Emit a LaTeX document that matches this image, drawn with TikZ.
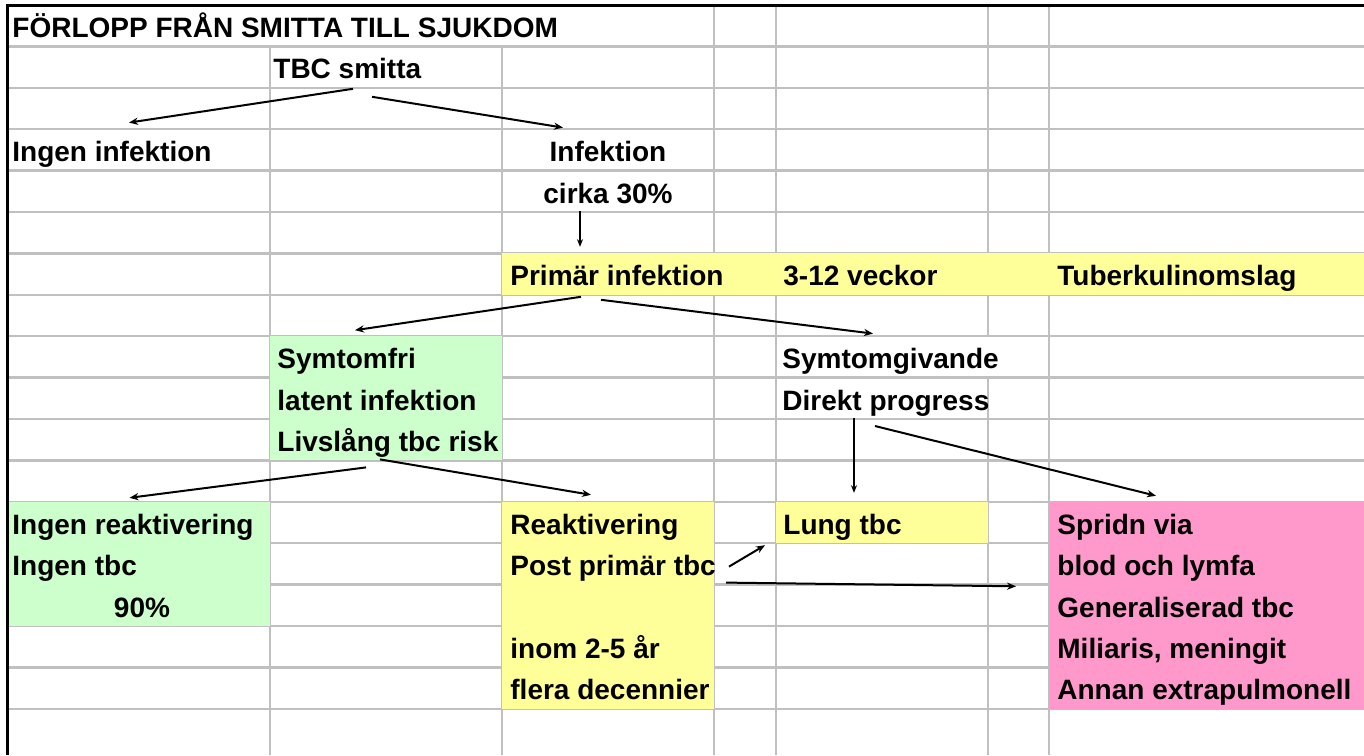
\documentclass[tikz,border=0pt]{standalone}
\usepackage{fontspec}
\setmainfont{Liberation Sans}
\usepackage{tikz}
\usetikzlibrary{arrows.meta,calc}
\usepackage{xcolor}
\definecolor{cellyellow}{HTML}{FFFF99}
\definecolor{cellgreen}{HTML}{CCFFCC}
\definecolor{cellpink}{HTML}{FF99CC}
\definecolor{gridgray}{HTML}{C0C0C0}

\begin{document}
\begin{tikzpicture}[
    x=0.5pt, y=-0.5pt,
    gridline/.style={draw=gridgray, line width=1.2pt},
    border/.style={draw=black, line width=1.5pt},
    cell/.style={rectangle, draw=none, inner sep=0pt, outer sep=0pt, anchor=north west},
    txt/.style={anchor=base west, inner sep=0pt, font=\bfseries\fontsize{14}{16}\selectfont},
    ctxt/.style={txt, anchor=base},
    arrow/.style={-{Stealth[length=4.5pt, width=3.6pt]}, line width=1pt},
    thinarrow/.style={-{Stealth[length=3.8pt, width=3pt]}, line width=0.6pt}
]
\useasboundingbox (0,0) rectangle (1364,755);
\fill[white] (0,0) rectangle (1364,755);

\foreach \k in {1,...,17}
  \draw[gridline] (8,{5+41.4*\k}) -- (1364,{5+41.4*\k});
\foreach \x in {714,776,1049}
  \draw[gridline] (\x,5) -- (\x,755);
\foreach \x in {270,502}
  \draw[gridline] (\x,46.4) -- (\x,755);
\draw[gridline] (988,5) -- (988,336.2) (988,377.6) -- (988,755);

\node[cell, fill=cellyellow, minimum width=431pt, minimum height=20.7pt] (primrow) at (502,253.4) {};
\node[cell, fill=cellgreen, minimum width=116pt, minimum height=62.1pt] (symfri) at (270,336.2) {};
\node[cell, fill=cellgreen, minimum width=130.5pt, minimum height=62.1pt] (noreakt) at (9,501.8) {};
\node[cell, fill=cellyellow, minimum width=106pt, minimum height=103.5pt] (reakt) at (502,501.8) {};
\node[cell, fill=cellyellow, minimum width=106pt, minimum height=20.7pt] (lung) at (776,501.8) {};
\node[cell, fill=cellpink, minimum width=157.5pt, minimum height=103.5pt] (spridn) at (1049,501.8) {};

\draw[border] (7.5,755) -- (7.5,5.5) -- (1364,5.5);

\node[txt] (title) at (12,37) {FÖRLOPP FRÅN SMITTA TILL SJUKDOM};
\node[txt] (smitta) at (273,78.8) {TBC smitta};
\node[txt] (noinf) at (12,161.6) {Ingen infektion};
\node[ctxt] (inf) at (608,161.6) {Infektion};
\node[ctxt] (cirka) at (608,203) {cirka 30\%};
\node[txt] (primar) at (510,285.8) {Primär infektion};
\node[txt] (veckor) at (783,285.8) {3-12 veckor};
\node[txt] (tuberk) at (1057,285.8) {Tuberkulinomslag};
\node[txt] (symfri1) at (277,368.6) {Symtomfri};
\node[txt] (symfri2) at (277,410) {latent infektion};
\node[txt] (symfri3) at (277,451.4) {Livslång tbc risk};
\node[txt] (symgiv1) at (782,368.6) {Symtomgivande};
\node[txt] (symgiv2) at (782,410) {Direkt progress};
\node[txt] (noreakt1) at (12,534.2) {Ingen reaktivering};
\node[txt] (noreakt2) at (12,575.6) {Ingen tbc};
\node[ctxt] (noreakt3) at (142,617) {90\%};
\node[txt] (reakt1) at (510,534.2) {Reaktivering};
\node[txt] (post) at (510,575.6) {Post primär tbc};
\node[txt] (reakt3) at (510,658.4) {inom 2-5 år};
\node[txt] (reakt4) at (510,699.8) {flera decennier};
\node[txt] (lungtxt) at (783,534.2) {Lung tbc};
\node[txt] (spridn1) at (1057,534.2) {Spridn via};
\node[txt] (spridn2) at (1057,575.6) {blod och lymfa};
\node[txt] (spridn3) at (1057,617) {Generaliserad tbc};
\node[txt] (spridn4) at (1057,658.4) {Miliaris, meningit};
\node[txt] (spridn5) at (1057,699.8) {Annan extrapulmonell};

\draw[arrow] ($(smitta.base west)+(80,10)$) -- ($(noinf.base west)+(117,-39)$);
\draw[arrow] ($(smitta.base west)+(99,18)$) -- ($(inf.base)+(-45,-34)$);
\draw[thinarrow] ($(cirka.base)+(-28,8)$) -- ($(primar.base west)+(70,-39)$);
\draw[arrow] ($(primar.base west)+(71,11)$) -- ($(symfri.north)+(-31,-6)$);
\draw[arrow] ($(primar.base west)+(91,14)$) -- ($(symgiv1.base west)+(91,-35)$);
\draw[thinarrow] ($(symgiv2.base west)+(72,8)$) -- ($(lung.north)+(-28,-9)$);
\draw[arrow] ($(symgiv2.base west)+(93,16)$) -- ($(spridn.north)+(-50.5,-6)$);
\draw[arrow] ($(symfri.south)+(-20,7)$) -- ($(noreakt.north)+(-10,-4)$);
\draw[arrow] ($(symfri.south)+(-6,-1)$) -- ($(reakt.north)+(-17,-7)$);
\draw[arrow] ($(post.base west)+(219,-9)$) -- ($(lung.south west)+(-11,2)$);
\draw[arrow] ($(post.base west)+(216,7)$) -- ($(spridn.west)+(-33,-19)$);

\end{tikzpicture}
\end{document}
